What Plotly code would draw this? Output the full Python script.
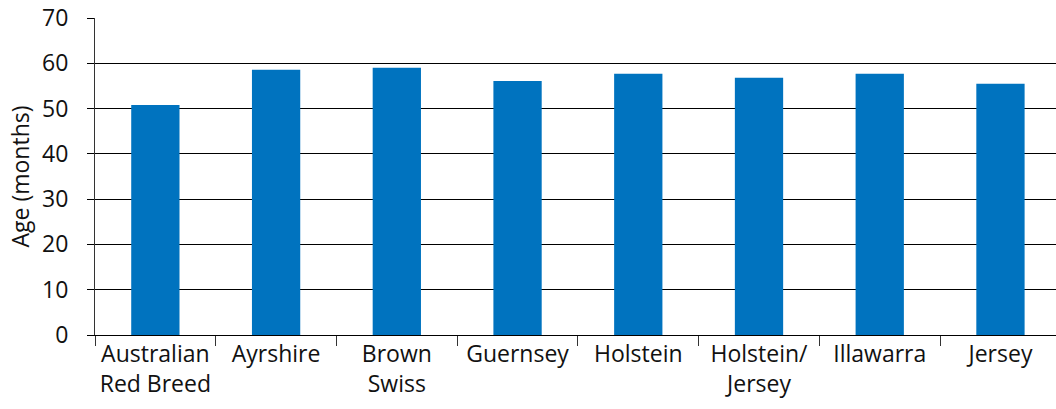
import plotly.graph_objects as go

categories = ["Australian<br>Red Breed", "Ayrshire", "Brown<br>Swiss", "Guernsey",
              "Holstein", "Holstein/<br>Jersey", "Illawarra", "Jersey"]
ages = [50.8, 58.6, 59.0, 56.1, 57.7, 56.8, 57.7, 55.5]
y_ticks = [0, 10, 20, 30, 40, 50, 60, 70]

FONT = "Open Sans"

fig = go.Figure(go.Bar(
    x=categories, y=ages, width=0.4,
    marker=dict(color="#0073BF", line=dict(width=0)),
))

fig.update_layout(
    width=1056, height=409,
    margin=dict(l=95, r=0, t=18, b=74),
    paper_bgcolor="white", plot_bgcolor="white",
    showlegend=False,
    font=dict(family=FONT, size=23, color="#111"),
    bargap=0.6,
)
fig.update_xaxes(
    type="category", range=[-0.5, 7.46],
    showgrid=False, showline=True, linecolor="#000", linewidth=1,
    ticks="outside", tickson="boundaries", ticklen=10, tickcolor="#333", tickwidth=1,
    ticklabelstandoff=-2,
    tickfont=dict(family=FONT, size=23, color="#111"),
)
fig.update_yaxes(
    range=[0, 70], tickvals=y_ticks,
    showgrid=True, gridcolor="#000", gridwidth=1,
    showline=True, linecolor="#333", linewidth=1,
    ticks="outside", ticklen=7, tickcolor="#000", tickwidth=1,
    ticklabelstandoff=14,
    zeroline=True, zerolinecolor="#000", zerolinewidth=1,
    tickfont=dict(family=FONT, size=23, color="#111"),
    title=dict(text="Age (months)", font=dict(family=FONT, size=23, color="#111"), standoff=6),
)

fig.write_html("out.html")
